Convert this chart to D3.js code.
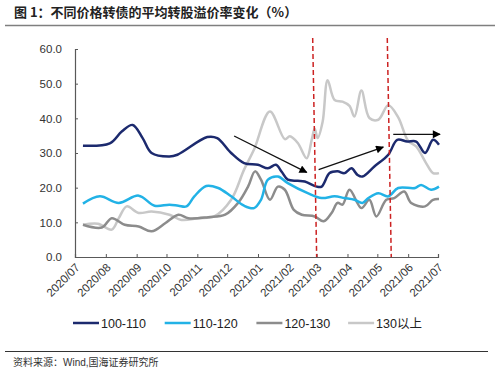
<!DOCTYPE html>
<html>
<head>
<meta charset="utf-8">
<script src="https://cdn.jsdelivr.net/npm/d3@7"></script>
<style>
  body { margin: 0; background: #fff; }
  text { font-family: "Liberation Sans", Arial, "Noto Sans CJK SC", sans-serif; }
</style>
</head>
<body>
<svg id="visu" width="500" height="373"></svg>
<script>
// tick labels (monthly)
var monthLabels = ["2020/07","2020/08","2020/09","2020/10","2020/11","2020/12",
  "2021/01","2021/02","2021/03","2021/04","2021/05","2021/06","2021/07"];

var seriesNames = ["100-110", "110-120", "120-130", "130以上"];

// values, [date, premium %]
var s100_110 = [
  ["2020-07-09",32.1],["2020-08-05",32.8],["2020-08-17",36.2],["2020-08-28",38.1],
  ["2020-09-07",34.3],["2020-09-16",30.0],["2020-10-04",29.0],["2020-10-12",29.5],
  ["2020-11-11",34.6],["2020-11-21",34.3],["2020-12-05",30.0],["2020-12-18",27.1],
  ["2021-01-01",26.6],["2021-01-11",25.6],["2021-01-19",26.6],["2021-01-25",24.5],
  ["2021-01-31",22.3],["2021-02-10",22.0],["2021-02-17",21.8],["2021-03-01",20.3],
  ["2021-03-06",20.3],["2021-03-14",24.2],["2021-03-22",24.7],["2021-03-29",24.2],
  ["2021-04-05",25.6],["2021-04-11",23.7],["2021-04-16",23.2],["2021-04-28",26.1],
  ["2021-05-12",29.5],["2021-05-21",33.8],["2021-05-31",33.3],["2021-06-09",33.3],
  ["2021-06-18",30.0],["2021-06-26",33.8],["2021-07-02",32.4]
];
var s110_120 = [
  ["2020-07-09",15.4],["2020-07-26",17.5],["2020-08-14",15.6],["2020-09-03",17.7],
  ["2020-09-19",14.8],["2020-10-04",15.1],["2020-10-13",14.8],["2020-10-21",14.6],
  ["2020-10-29",17.5],["2020-11-10",20.5],["2020-11-22",19.9],["2020-12-05",17.5],
  ["2020-12-18",14.8],["2020-12-28",14.1],["2021-01-04",16.5],["2021-01-11",22.3],
  ["2021-01-21",23.2],["2021-01-31",21.3],["2021-02-20",18.4],["2021-03-06",17.0],
  ["2021-03-19",17.5],["2021-03-29",17.0],["2021-04-08",16.5],["2021-04-16",15.6],
  ["2021-04-22",17.0],["2021-05-02",18.4],["2021-05-12",17.5],["2021-05-22",19.9],
  ["2021-06-08",19.9],["2021-06-14",20.8],["2021-06-24",19.4],["2021-07-02",20.3]
];
var s120_130 = [
  ["2020-07-09",9.3],["2020-07-28",8.5],["2020-08-07",11.2],["2020-08-20",9.3],
  ["2020-09-03",8.8],["2020-09-16",7.4],["2020-09-30",9.8],["2020-10-13",12.2],
  ["2020-10-23",11.2],["2020-11-12",11.5],["2020-11-29",12.2],["2020-12-12",15.6],
  ["2020-12-22",20.3],["2020-12-29",24.7],["2021-01-04",22.3],["2021-01-13",16.5],
  ["2021-01-21",20.3],["2021-01-28",19.4],["2021-02-06",13.6],["2021-02-14",12.2],
  ["2021-02-27",11.7],["2021-03-08",10.3],["2021-03-16",12.7],["2021-03-22",15.6],
  ["2021-03-27",15.1],["2021-04-03",19.4],["2021-04-15",14.1],["2021-04-23",16.5],
  ["2021-04-30",11.7],["2021-05-10",16.5],["2021-05-18",17.0],["2021-05-28",18.9],
  ["2021-06-04",15.6],["2021-06-18",14.6],["2021-06-26",16.5],["2021-07-02",16.7]
];
var s130up = [
  ["2020-07-09",9.3],["2020-07-24",9.6],["2020-08-07",7.9],["2020-08-14",11.2],
  ["2020-08-22",14.6],["2020-09-03",12.7],["2020-09-16",13.1],["2020-10-04",12.2],
  ["2020-10-16",10.7],["2020-11-02",11.2],["2020-11-18",11.7],["2020-12-05",16.5],
  ["2020-12-18",25.2],["2020-12-28",31.0],["2021-01-13",42.0],["2021-01-28",34.0],
  ["2021-02-02",34.8],["2021-02-10",32.9],["2021-02-19",28.5],["2021-02-24",33.8],
  ["2021-02-27",37.0],["2021-03-02",34.3],["2021-03-07",39.0],["2021-03-12",51.0],
  ["2021-03-19",45.3],["2021-03-27",44.8],["2021-04-03",43.6],["2021-04-08",40.5],
  ["2021-04-15",48.0],["2021-04-23",40.1],["2021-05-02",39.6],["2021-05-12",43.8],
  ["2021-05-22",40.3],["2021-06-01",33.5],["2021-06-09",31.9],["2021-06-19",27.1],
  ["2021-06-26",24.2],["2021-07-02",24.2]
];

// red dashed markers: [top date, bottom date]
var markers = [["2021-02-25","2021-03-01"], ["2021-05-11","2021-05-15"]];
// arrows: [from date, from value, to date, to value]
var arrows = [
  ["2020-12-08",34.9,"2021-02-19",24.4],
  ["2021-03-03",25.2,"2021-05-07",31.7],
  ["2021-05-17",35.4,"2021-07-03",35.4]
];

var colors = ["#1c2a6e", "#22b2e6", "#8c8c8c", "#c8c8c8"];
var allSeries = [s100_110, s110_120, s120_130, s130up];

var parse = d3.timeParse("%Y-%m-%d");
var vis = d3.select("#visu"),
    LEFT = 75, RIGHT = 438, TOP = 49, BOTTOM = 257;

var xScale = d3.scaleTime()
  .domain([parse("2020-07-01"), parse("2021-07-01")])
  .range([LEFT, RIGHT]);
var yScale = d3.scaleLinear().domain([0, 60]).range([BOTTOM, TOP]);

// title
vis.append("text")
  .attr("x", 14).attr("y", 17)
  .style("font-family", "'Noto Sans CJK SC', sans-serif")
  .style("font-weight", "bold").style("font-size", "13px")
  .attr("fill", "#222")
  .text("图 1：不同价格转债的平均转股溢价率变化（%）");
vis.append("line").attr("x1", 5).attr("x2", 495).attr("y1", 25.5).attr("y2", 25.5)
  .attr("stroke", "#7f7f7f").attr("stroke-width", 1.5);

// axes
var yAxis = d3.axisLeft(yScale).tickValues([0,10,20,30,40,50,60])
  .tickSize(-3).tickPadding(13).tickFormat(d3.format(".1f"));
var gy = vis.append("g").attr("transform", "translate(" + LEFT + ",0)").call(yAxis);

var monthDates = monthLabels.map(function(m) { return d3.timeParse("%Y/%m")(m); });
var xAxis = d3.axisBottom(xScale).tickValues(monthDates).tickSize(-3)
  .tickFormat(function(d, i) { return monthLabels[i]; });
var gx = vis.append("g").attr("transform", "translate(0," + BOTTOM + ")").call(xAxis);
gx.selectAll("text")
  .attr("text-anchor", "end")
  .attr("dx", 0).attr("dy", 0)
  .attr("transform", "translate(3,9) rotate(-45)");

[gx, gy].forEach(function(g) {
  g.select(".domain").attr("stroke", "#595959").attr("stroke-width", 1.2);
  g.selectAll(".tick line").attr("stroke", "#595959");
  g.selectAll("text").style("font-size", "11.5px")
    .style("font-family", "'Liberation Sans', Arial, sans-serif").attr("fill", "#333");
});

// lines
var lineGen = d3.line()
  .x(function(d) { return xScale(parse(d[0])); })
  .y(function(d) { return yScale(d[1]); })
  .curve(d3.curveCatmullRom.alpha(0.5));

// draw order: light first so the darker ones sit on top
[3, 2, 1, 0].forEach(function(i) {
  vis.append("path")
    .attr("d", lineGen(allSeries[i]))
    .attr("fill", "none")
    .attr("stroke", colors[i])
    .attr("stroke-width", 2.5)
    .attr("stroke-linejoin", "round");
});

// red dashed markers
markers.forEach(function(m) {
  vis.append("line")
    .attr("x1", xScale(parse(m[0]))).attr("y1", yScale(63.2))
    .attr("x2", xScale(parse(m[1]))).attr("y2", yScale(0))
    .attr("stroke", "#cc2222").attr("stroke-width", 1.5)
    .attr("stroke-dasharray", "5,3");
});

// arrows
vis.append("defs").append("marker")
  .attr("id", "head").attr("viewBox", "0 0 10 10")
  .attr("refX", 9).attr("refY", 5)
  .attr("markerWidth", 9).attr("markerHeight", 8)
  .attr("markerUnits", "userSpaceOnUse")
  .attr("orient", "auto")
  .append("path").attr("d", "M0,0 L10,5 L0,10 z").attr("fill", "#000");

arrows.forEach(function(a) {
  vis.append("line")
    .attr("x1", xScale(parse(a[0]))).attr("y1", yScale(a[1]))
    .attr("x2", xScale(parse(a[2]))).attr("y2", yScale(a[3]))
    .attr("stroke", "#111").attr("stroke-width", 1.3)
    .attr("marker-end", "url(#head)");
});

// legend
var legend = vis.append("g").attr("transform", "translate(73,323)");
seriesNames.forEach(function(name, i) {
  var g = legend.append("g").attr("transform", "translate(" + (i * 91.7) + ",0)");
  g.append("line").attr("x1", 0).attr("x2", 26).attr("y1", 0).attr("y2", 0)
    .attr("stroke", colors[i]).attr("stroke-width", 2.5);
  g.append("text").attr("x", 28).attr("y", 4.5)
    .style("font-size", "12.5px").attr("fill", "#222")
    .text(name);
});

// footer
vis.append("line").attr("x1", 5).attr("x2", 488).attr("y1", 351.5).attr("y2", 351.5)
  .attr("stroke", "#333").attr("stroke-width", 1);
vis.append("text").attr("x", 13).attr("y", 366)
  .style("font-size", "10px").attr("fill", "#333")
  .text("资料来源：Wind,国海证券研究所");
</script>
</body>
</html>
